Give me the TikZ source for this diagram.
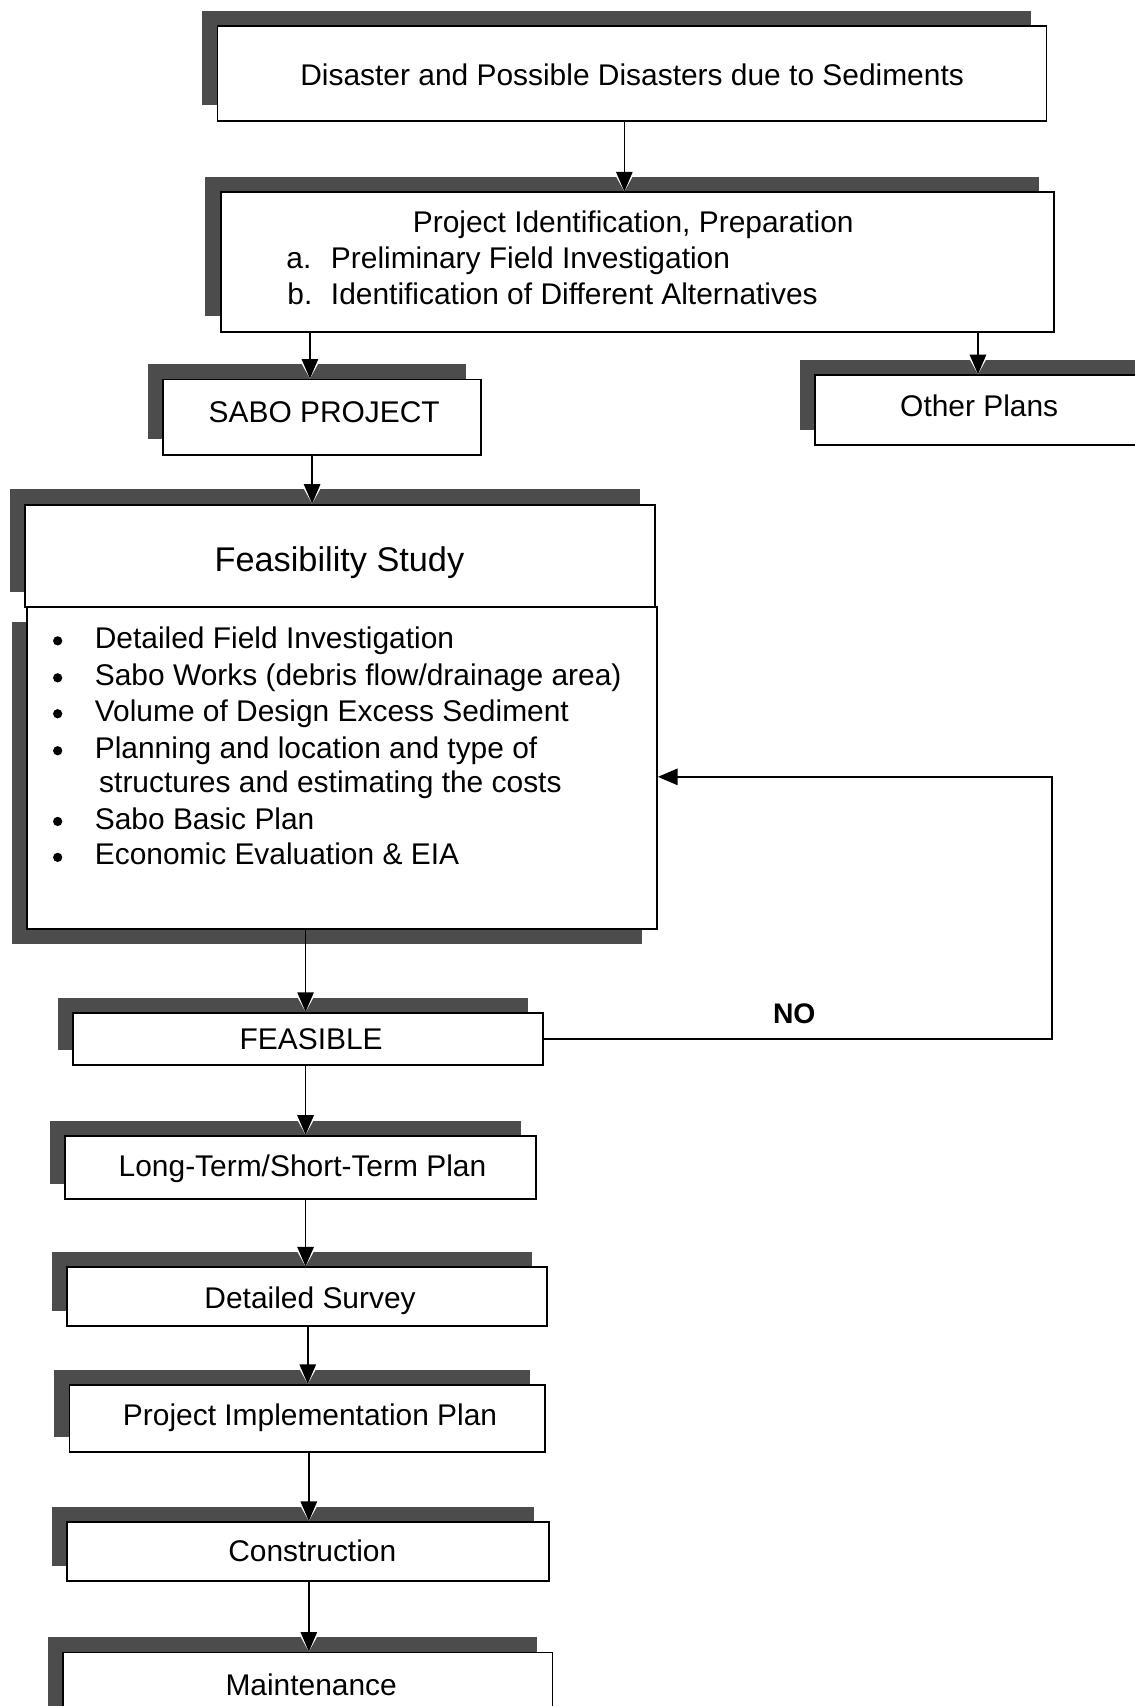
\documentclass[tikz,border=0pt]{standalone}
\usepackage{fontspec}
\setmainfont{Liberation Sans}
\usetikzlibrary{arrows.meta,shadows}
\begin{document}
\begin{tikzpicture}[x=1pt,y=-1pt,
  shad/.style={fill=black!70},
  box/.style={draw, line width=1.7pt, fill=white, rectangle, inner sep=0pt, anchor=north west,
    general shadow={shad, shadow xshift=-14pt, shadow yshift=14pt}},
  boxlow/.style={draw, line width=1.7pt, fill=white, rectangle, inner sep=0pt, anchor=north west,
    general shadow={shad, shadow xshift=-14pt, shadow yshift=-14pt}},
  txt/.style={font=\fontsize{27.5}{32}\selectfont, inner sep=0pt, anchor=base},
  txtw/.style={txt, anchor=base west},
  bul/.style={circle, fill=black, inner sep=0pt, minimum size=8.5pt},
  arr/.style={line width=1.5pt, -{Triangle[length=18pt,width=15pt]},
    preaction={draw=white, fill=white, line width=1.5pt, -{Triangle[length=22pt,width=24pt]}}}
]
\useasboundingbox (0,0) rectangle (1043,1568);
\clip (0,0) rectangle (1043,1568);

% boxes
\node[box, minimum width=762pt, minimum height=87pt] (b1) at (199,23) {};
\node[box, minimum width=766pt, minimum height=128pt] (b2) at (202,176) {};
\node[box, minimum width=292pt, minimum height=69pt] (sabo) at (149,348) {};
\node[box, minimum width=312pt, minimum height=64pt] (other) at (748,344) {};
\node[box, minimum width=579pt, minimum height=94pt] (fh) at (22,463) {};
\node[boxlow, minimum width=579pt, minimum height=296pt] (fb) at (24,557) {};
\node[box, minimum width=432pt, minimum height=48pt] (fea) at (66,930) {};
\node[box, minimum width=433pt, minimum height=58pt] (lt) at (59,1043) {};
\node[box, minimum width=441pt, minimum height=54pt] (ds) at (61,1164) {};
\node[box, minimum width=437pt, minimum height=62pt] (pip) at (63,1272) {};
\node[box, minimum width=443pt, minimum height=54pt] (con) at (61,1398) {};
\node[box, minimum width=450pt, minimum height=72pt] (mnt) at (57,1518) {};

% connectors
\coordinate (loop) at (967,714);
\draw[arr] ([xshift=-7pt]b1.south) -- ([xshift=-7pt]b1.south |- b2.north);
\draw[arr] ([xshift=-11pt]sabo.north |- b2.south) -- ([xshift=-11pt]sabo.north);
\draw[arr] ([xshift=-6pt]other.north |- b2.south) -- ([xshift=-6pt]other.north);
\draw[arr] ([xshift=-9pt]sabo.south) -- ([xshift=-9pt]sabo.south |- fh.north);
\draw[arr] ([xshift=-2pt]fea.north |- fb.south) -- ([xshift=-2pt]fea.north);
\draw[line width=1.5pt, -{Triangle[length=18pt,width=15pt]}] (fea.east) -| (loop) -- (loop -| fb.east);
\draw[arr] ([xshift=4.5pt]lt.north |- fea.south) -- ([xshift=4.5pt]lt.north);
\draw[arr] ([xshift=-1.5pt]ds.north |- lt.south) -- ([xshift=-1.5pt]ds.north);
\draw[arr] ([xshift=0.5pt]pip.north |- ds.south) -- ([xshift=0.5pt]pip.north);
\draw[arr] ([xshift=0.5pt]con.north |- pip.south) -- ([xshift=0.5pt]con.north);
\draw[arr] ([xshift=1pt]mnt.north |- con.south) -- ([xshift=1pt]mnt.north);

% texts
\node[txt] (t1) at (581,79) {Disaster and Possible Disasters due to Sediments};
\node[txt] (t2) at (582,214) {Project Identification, Preparation};
\node[txtw] (t2a) at (263,247) {a.};
\node[txtw] (t2at) at (304,247) {Preliminary Field Investigation};
\node[txtw] (t2b) at (264,280) {b.};
\node[txtw] (t2bt) at (304,280) {Identification of Different Alternatives};
\node[txt] (tsabo) at (298,388) {SABO PROJECT};
\node[txt] (tother) at (900,383) {Other Plans};
\node[txt, font=\fontsize{31.5}{37}\selectfont] (tfh) at (312,525) {Feasibility Study};

\node[bul] (k1) at (53,589) {};
\node[txtw] (i1) at (87,596) {Detailed Field Investigation};
\node[bul] (k2) at (53,623) {};
\node[txtw] (i2) at (87,630) {Sabo Works (debris flow/drainage area)};
\node[bul] (k3) at (53,656) {};
\node[txtw] (i3) at (87,663) {Volume of Design Excess Sediment};
\node[bul] (k4) at (53,690) {};
\node[txtw] (i4) at (87,697) {Planning and location and type of};
\node[txtw] (i4b) at (91,728) {structures and estimating the costs};
\node[bul] (k5) at (53,755) {};
\node[txtw] (i5) at (87,762) {Sabo Basic Plan};
\node[bul] (k6) at (53,788) {};
\node[txtw] (i6) at (87,795) {Economic Evaluation \& EIA};

\node[txt] (tfea) at (286,965) {FEASIBLE};
\node[txt, font=\fontsize{26}{30}\selectfont\bfseries] (tno) at (730,941) {NO};
\node[txt] (tlt) at (278,1081) {Long-Term/Short-Term Plan};
\node[txt] (tds) at (285,1203) {Detailed Survey};
\node[txt] (tpip) at (285,1310) {Project Implementation Plan};
\node[txt] (tcon) at (287,1435) {Construction};
\node[txt] (tmnt) at (286,1558) {Maintenance};
\end{tikzpicture}
\end{document}
